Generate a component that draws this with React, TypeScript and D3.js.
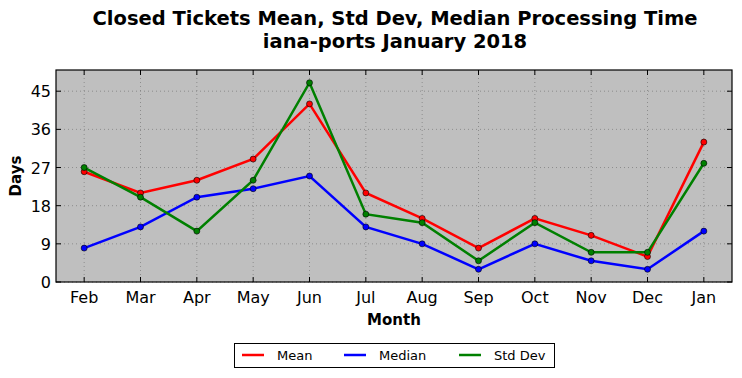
import React from "react";
import * as d3 from "d3";

const months = ["Feb", "Mar", "Apr", "May", "Jun", "Jul", "Aug", "Sep", "Oct", "Nov", "Dec", "Jan"];
const meanValues = [26, 21, 24, 29, 42, 21, 15, 8, 15, 11, 6, 33];
const medianValues = [8, 13, 20, 22, 25, 13, 9, 3, 9, 5, 3, 12];
const stdValues = [27, 20, 12, 24, 47, 16, 14, 5, 14, 7, 7, 28];
const yTicks = [0, 9, 18, 27, 36, 45];

const W = 742, H = 378;
const L = 56, R = 732, T = 70, B = 282;
const FONT = "DejaVu Sans, sans-serif";

export default function App() {
  const x = d3.scaleLinear().domain([-0.5, 11.5]).range([L, R]);
  const y = d3.scaleLinear().domain([0, 50]).range([B, T]);
  const line = d3.line<number>().x((_, i) => x(i)).y((d) => y(d));
  const series = [
    { name: "Mean", values: meanValues, color: "#ff0000" },
    { name: "Median", values: medianValues, color: "#0000ff" },
    { name: "Std Dev", values: stdValues, color: "#008000" },
  ];
  return (
    <svg width={W} height={H} style={{ position: "absolute", left: 0, top: 0 }} fontFamily={FONT}>
      <rect x={0} y={0} width={W} height={H} fill="#fff" />
      <text x={395} y={25} textAnchor="middle" fontSize={19.5} fontWeight="bold">
        Closed Tickets Mean, Std Dev, Median Processing Time
      </text>
      <text x={395} y={48} textAnchor="middle" fontSize={19.5} fontWeight="bold">
        iana-ports January 2018
      </text>
      <rect x={L} y={T} width={R - L} height={B - T} fill="#bfbfbf" />
      {months.map((m, i) => (
        <line key={"gx" + i} x1={x(i)} x2={x(i)} y1={T} y2={B} stroke="#808080" strokeWidth={0.8} strokeDasharray="1,3" />
      ))}
      {yTicks.map((t) => (
        <line key={"gy" + t} x1={L} x2={R} y1={y(t)} y2={y(t)} stroke="#808080" strokeWidth={0.8} strokeDasharray="1,3" />
      ))}
      {months.map((m, i) => (
        <g key={"tx" + i}>
          <line x1={x(i)} x2={x(i)} y1={B} y2={B - 5} stroke="#000" />
          <line x1={x(i)} x2={x(i)} y1={T} y2={T + 5} stroke="#000" />
          <text x={x(i)} y={B + 21} textAnchor="middle" fontSize={16}>{m}</text>
        </g>
      ))}
      {yTicks.map((t) => (
        <g key={"ty" + t}>
          <line x1={L} x2={L + 5} y1={y(t)} y2={y(t)} stroke="#000" />
          <line x1={R} x2={R - 5} y1={y(t)} y2={y(t)} stroke="#000" />
          <text x={L - 5} y={y(t) + 6} textAnchor="end" fontSize={16}>{t}</text>
        </g>
      ))}
      {series.map((s) => (
        <g key={s.name}>
          <path d={line(s.values) || ""} fill="none" stroke={s.color} strokeWidth={2.5} />
          {s.values.map((v, i) => (
            <circle key={i} cx={x(i)} cy={y(v)} r={3} fill={s.color} stroke="#000" strokeWidth={0.6} />
          ))}
        </g>
      ))}
      <rect x={L} y={T} width={R - L} height={B - T} fill="none" stroke="#000" strokeWidth={1.2} />
      <text x={(L + R) / 2} y={325} textAnchor="middle" fontSize={15} fontWeight="bold">Month</text>
      <text transform={`translate(21,${(T + B) / 2}) rotate(-90)`} textAnchor="middle" fontSize={15} fontWeight="bold">Days</text>
      <rect x={234.5} y={343.5} width={320} height={24} fill="#fff" stroke="#000" strokeWidth={1} />
      {series.map((s, i) => {
        const lx = [242, 344, 459][i];
        return (
          <g key={"lg" + s.name}>
            <line x1={lx} x2={lx + 22} y1={355} y2={355} stroke={s.color} strokeWidth={2.5} />
            <text x={lx + 35} y={360} fontSize={13}>{s.name}</text>
          </g>
        );
      })}
    </svg>
  );
}
